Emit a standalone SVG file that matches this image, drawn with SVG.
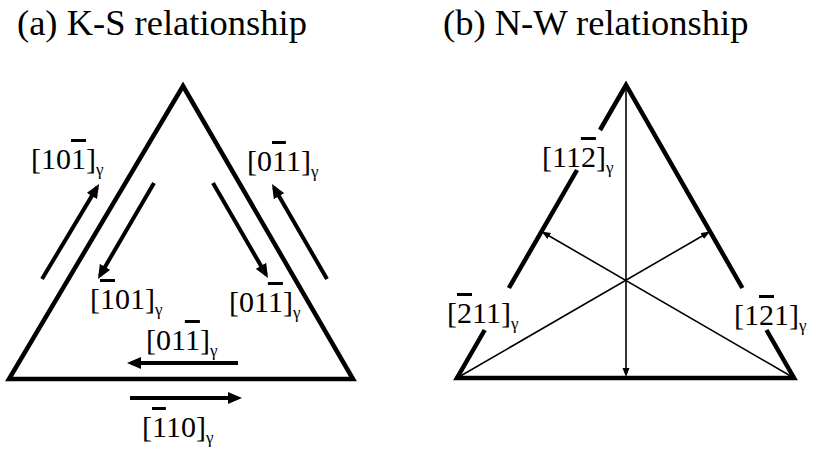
<svg xmlns="http://www.w3.org/2000/svg" width="825" height="461" viewBox="0 0 825 461">
<defs>
<marker id="ah" markerUnits="userSpaceOnUse" markerWidth="15" markerHeight="12" refX="10" refY="6" orient="auto">
<path d="M0,0 L14,6 L0,12 z" fill="#000"/>
</marker>
<marker id="ahs" markerUnits="userSpaceOnUse" markerWidth="10" markerHeight="8" refX="6" refY="3.5" orient="auto">
<path d="M0,0 L9,3.5 L0,7 z" fill="#000"/>
</marker>
</defs>
<style>
.title{font-family:"Liberation Serif",serif;font-size:36.5px;fill:#000}
.lbl{font-family:"Liberation Serif",serif;font-size:30px;fill:#000}
.sub{font-size:17px}
.ob{text-decoration:overline}
.tri{fill:none;stroke:#000;stroke-width:4.5;stroke-linejoin:miter;stroke-miterlimit:10}
.arr{stroke:#000;stroke-width:4;fill:none;marker-end:url(#ah)}
.thin{stroke:#000;stroke-width:1.6;fill:none;marker-end:url(#ahs)}
</style>
<rect width="825" height="461" fill="#fff"/>
<text class="title" x="17" y="35">(a) K-S relationship</text>
<text class="title" x="443" y="35">(b) N-W relationship</text>

<g id="triangle-ks">
<polygon class="tri" points="183,86 353,379 9,379"/>
</g>
<g id="triangle-nw">
<path class="tri" d="M600,130 L626,85 L742.4,288"/>
<path class="tri" d="M577,170 L508.9,288"/>
<path class="tri" d="M484.7,330 L457,378 L794,378 L766.5,330"/>
</g>

<g id="connectors">
<line class="arr" x1="42" y1="279" x2="97" y2="187.4"/>
<line class="arr" x1="154" y1="183" x2="100" y2="275.5"/>
<line class="arr" x1="213" y1="183" x2="266" y2="274.5"/>
<line class="arr" x1="327" y1="279" x2="274" y2="187.5"/>
<line class="arr" x1="238" y1="363" x2="131" y2="363"/>
<line class="arr" x1="130" y1="398" x2="238" y2="398"/>
<line class="thin" x1="626" y1="85" x2="626" y2="374"/>
<line class="thin" x1="794" y1="378" x2="544.1" y2="233"/>
<line class="thin" x1="457" y1="378" x2="707.4" y2="233"/>
</g>

<g id="labels-ks">
<text class="lbl" x="31" y="169">[10<tspan class="ob">1</tspan>]<tspan class="sub" dy="6">γ</tspan></text>
<text class="lbl" x="247" y="171">[0<tspan class="ob">1</tspan>1]<tspan class="sub" dy="6">γ</tspan></text>
<text class="lbl" x="90" y="309">[<tspan class="ob">1</tspan>01]<tspan class="sub" dy="6">γ</tspan></text>
<text class="lbl" x="229" y="312">[01<tspan class="ob">1</tspan>]<tspan class="sub" dy="6">γ</tspan></text>
<text class="lbl" x="146" y="350">[01<tspan class="ob">1</tspan>]<tspan class="sub" dy="6">γ</tspan></text>
<text class="lbl" x="142" y="437">[<tspan class="ob">1</tspan>10]<tspan class="sub" dy="6">γ</tspan></text>
</g>
<g id="labels-nw">
<text class="lbl" x="542" y="167">[11<tspan class="ob">2</tspan>]<tspan class="sub" dy="6">γ</tspan></text>
<text class="lbl" x="447" y="323">[<tspan class="ob">2</tspan>11]<tspan class="sub" dy="6">γ</tspan></text>
<text class="lbl" x="734" y="325">[1<tspan class="ob">2</tspan>1]<tspan class="sub" dy="6">γ</tspan></text>
</g>
</svg>
